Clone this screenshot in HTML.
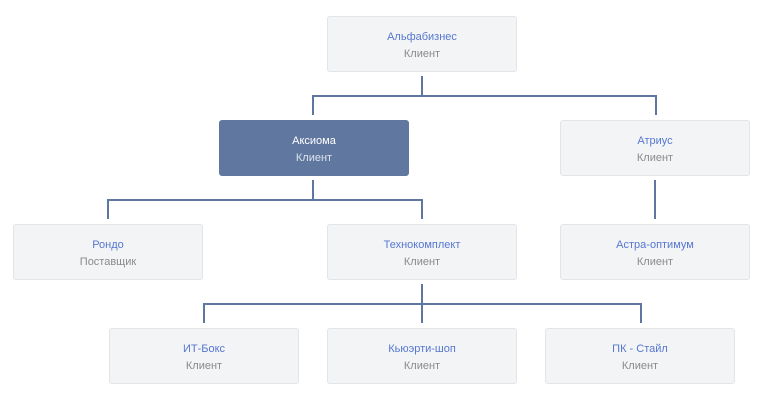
<!DOCTYPE html>
<html><head><meta charset="utf-8"><style>
body{margin:0;width:764px;height:403px;background:#fff;position:relative;overflow:hidden;font-family:"Liberation Sans","DejaVu Sans",sans-serif;}
.b{position:absolute;width:188px;height:54px;background:#f3f4f6;border:1px solid #e2e4e8;border-radius:3px;text-align:center;font-size:11px;}
.b .n{position:absolute;top:14px;left:0;right:0;color:#5677d0;}
.b .s{position:absolute;top:31px;left:0;right:0;color:#8a8a8a;}
.b.a{background:#60779f;border-color:#60779f;}
.b.a .n{color:#fff;}
.b.a .s{color:#dde3ee;}
.l{position:absolute;background:#5f76a0;}
</style></head><body>
<div class="l" style="left:421px;top:76px;width:2px;height:21px"></div>
<div class="l" style="left:312px;top:95px;width:345px;height:2px"></div>
<div class="l" style="left:312px;top:95px;width:2px;height:20px"></div>
<div class="l" style="left:655px;top:95px;width:2px;height:20px"></div>
<div class="l" style="left:312px;top:180px;width:2px;height:21px"></div>
<div class="l" style="left:107px;top:199px;width:316px;height:2px"></div>
<div class="l" style="left:107px;top:199px;width:2px;height:20px"></div>
<div class="l" style="left:421px;top:199px;width:2px;height:20px"></div>
<div class="l" style="left:654px;top:180px;width:2px;height:39px"></div>
<div class="l" style="left:421px;top:284px;width:2px;height:39px"></div>
<div class="l" style="left:203px;top:303px;width:439px;height:2px"></div>
<div class="l" style="left:203px;top:303px;width:2px;height:20px"></div>
<div class="l" style="left:640px;top:303px;width:2px;height:20px"></div>

<div class="b" style="left:327px;top:16px"><div class="n">Альфабизнес</div><div class="s">Клиент</div></div>
<div class="b a" style="left:219px;top:120px"><div class="n">Аксиома</div><div class="s">Клиент</div></div>
<div class="b" style="left:560px;top:120px"><div class="n">Атриус</div><div class="s">Клиент</div></div>
<div class="b" style="left:13px;top:224px"><div class="n">Рондо</div><div class="s">Поставщик</div></div>
<div class="b" style="left:327px;top:224px"><div class="n">Технокомплект</div><div class="s">Клиент</div></div>
<div class="b" style="left:560px;top:224px"><div class="n">Астра-оптимум</div><div class="s">Клиент</div></div>
<div class="b" style="left:109px;top:328px"><div class="n">ИТ-Бокс</div><div class="s">Клиент</div></div>
<div class="b" style="left:327px;top:328px"><div class="n">Кьюэрти-шоп</div><div class="s">Клиент</div></div>
<div class="b" style="left:545px;top:328px"><div class="n">ПК - Стайл</div><div class="s">Клиент</div></div>
</body></html>
